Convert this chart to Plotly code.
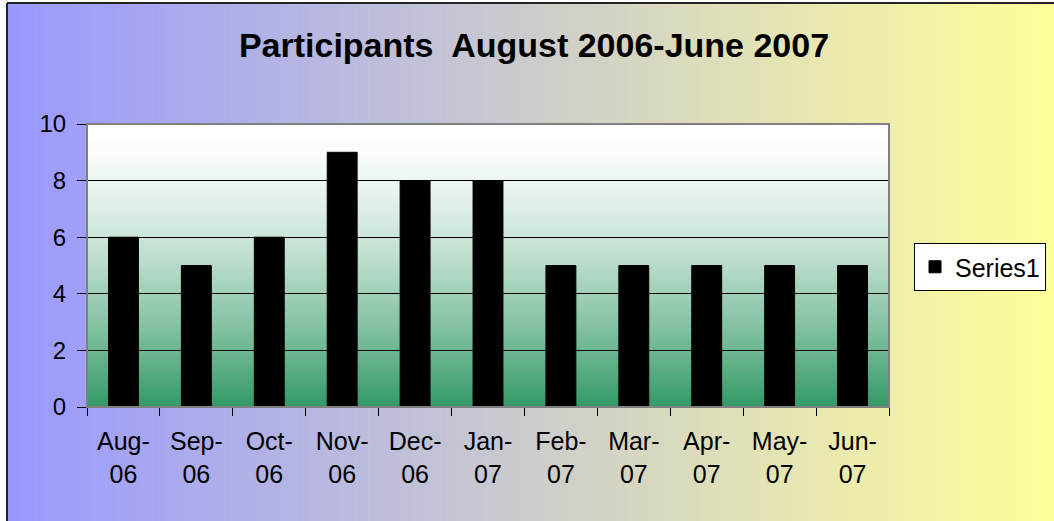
import plotly.graph_objects as go

# Monthly participant counts
months = ["Aug-<br>06", "Sep-<br>06", "Oct-<br>06", "Nov-<br>06", "Dec-<br>06", "Jan-<br>07",
          "Feb-<br>07", "Mar-<br>07", "Apr-<br>07", "May-<br>07", "Jun-<br>07"]
participants = [6, 5, 6, 9, 8, 8, 5, 5, 5, 5, 5]
y_ticks = [0, 2, 4, 6, 8, 10]

W, H = 1054, 521
L, R, T, B = 87, 165, 124, 114
pw, ph = W - L - R, H - T - B


def px_to_paper_x(px):
    return (px - L) / pw


def px_to_paper_y(py):
    return (H - B - py) / ph


def mix(c1, c2, t):
    return "rgb(%d,%d,%d)" % tuple(round(a + (b - a) * t) for a, b in zip(c1, c2))


shapes = []

# chart area gradient: periwinkle -> yellow, left to right
left_col, right_col = (153, 153, 255), (255, 255, 153)
x0, x1 = 8, W + 2
n = 160
for i in range(n):
    a = x0 + (x1 - x0) * i / n
    b = x0 + (x1 - x0) * (i + 1) / n + 0.6
    shapes.append(dict(type="rect", xref="paper", yref="paper", layer="below",
                       x0=px_to_paper_x(a), x1=px_to_paper_x(b),
                       y0=px_to_paper_y(H + 2), y1=px_to_paper_y(4),
                       fillcolor=mix(left_col, right_col, (i + 0.5) / n), line_width=0))

# plot area gradient: white -> green, top to bottom
top_col, bot_col = (255, 255, 255), (51, 153, 102)
m = 90
for i in range(m):
    t = (i + 0.5) / m
    shapes.append(dict(type="rect", xref="x domain", yref="y domain", layer="below",
                       x0=0, x1=1, y0=1 - i / m, y1=max(0, 1 - (i + 1) / m - 0.003),
                       fillcolor=mix(top_col, bot_col, t ** 1.5), line_width=0))

# outer border (left and top visible)
shapes.append(dict(type="line", xref="paper", yref="paper",
                   x0=px_to_paper_x(7), x1=px_to_paper_x(7),
                   y0=px_to_paper_y(H + 5), y1=px_to_paper_y(3),
                   line=dict(color="#222222", width=2)))
shapes.append(dict(type="line", xref="paper", yref="paper",
                   x0=px_to_paper_x(7), x1=px_to_paper_x(W + 5),
                   y0=px_to_paper_y(3), y1=px_to_paper_y(3),
                   line=dict(color="#222222", width=2)))
# plot area border
shapes.append(dict(type="rect", xref="x domain", yref="y domain", layer="above",
                   x0=0, x1=1, y0=0, y1=1, line=dict(color="#808080", width=2)))

fig = go.Figure()

fig.add_trace(go.Bar(
    x=months,
    y=participants,
    name="Series1",
    marker=dict(color="black", line=dict(color="black", width=1)),
))

fig.update_layout(
    width=W, height=H,
    margin=dict(l=L, r=R, t=T, b=B, autoexpand=False),
    paper_bgcolor="white",
    plot_bgcolor="rgba(0,0,0,0)",
    font=dict(family="Liberation Sans, Arial, sans-serif", color="black", size=25),
    title=dict(text="<b>Participants  August 2006-June 2007</b>",
               x=534 / W, xanchor="center",
               y=1 - 45 / H, yanchor="middle",
               font=dict(size=34, color="black")),
    bargap=0.59,
    showlegend=True,
    legend=dict(x=px_to_paper_x(914), xanchor="left", y=px_to_paper_y(243), yanchor="top",
                bgcolor="white", bordercolor="black", borderwidth=1,
                font=dict(size=25)),
    shapes=shapes,
)

fig.update_xaxes(
    tickson="boundaries", ticks="outside", ticklen=8, tickcolor="black",
    showline=True, linecolor="black", linewidth=1,
    showgrid=False, ticklabelstandoff=12,
)
fig.update_yaxes(
    range=[0, 10], tickvals=y_ticks, ticks="outside", ticklen=9, tickcolor="black",
    showline=True, linecolor="black", linewidth=1,
    showgrid=True, gridcolor="black", gridwidth=1, zeroline=False,
    ticklabelstandoff=6, tickfont=dict(size=24),
)

fig.write_html("out.html", config={"displayModeBar": False},
               post_script="document.body.style.margin='0';")
